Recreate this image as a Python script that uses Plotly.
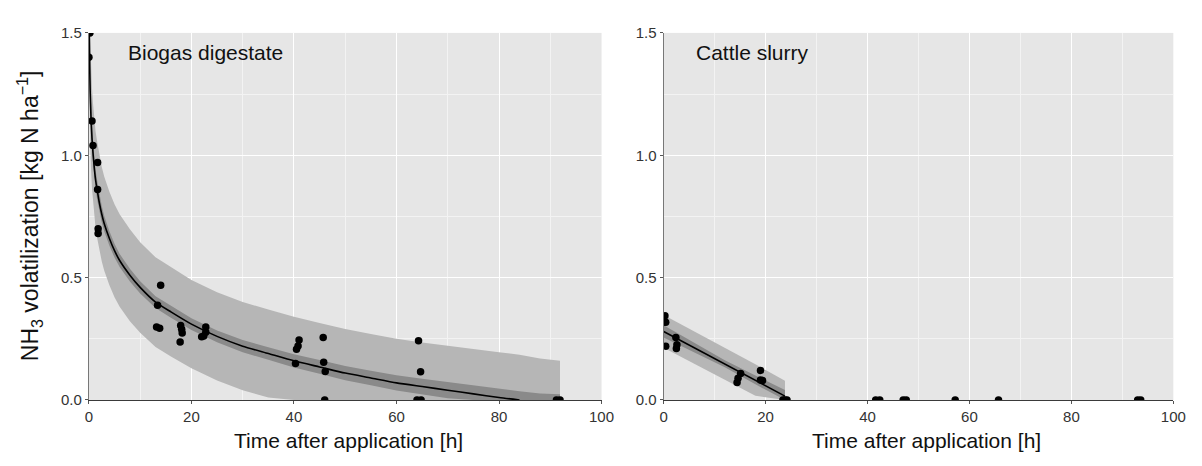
import plotly.graph_objects as go

# ---------------- Biogas digestate (left panel) ----------------
bio_t = [0, 0.2, 0.6, 0.8, 1.7, 1.7, 1.8, 1.8,
         13.4, 13.2, 13.8, 14.0, 17.9, 18.1, 18.2, 17.8,
         22.8, 22.8, 22.4, 22.0, 41.0, 40.8, 40.5, 40.3,
         45.7, 45.8, 46.1, 46.0, 64.3, 64.7, 64.0, 64.8, 91.2, 91.9]
bio_y = [1.40, 1.50, 1.14, 1.04, 0.97, 0.86, 0.70, 0.68,
         0.387, 0.298, 0.293, 0.469, 0.304, 0.289, 0.274, 0.237,
         0.298, 0.277, 0.262, 0.258, 0.245, 0.221, 0.207, 0.149,
         0.255, 0.154, 0.116, 0.0, 0.242, 0.115, 0.0, 0.0, 0.0, 0.0]

bio_fit_t = [0.08, 0.15, 0.25, 0.4, 0.6, 0.8, 1, 1.3, 1.6, 2, 2.5, 3, 4, 5, 6, 8, 10,
             13, 16, 20, 25, 30, 35, 40, 45, 50, 55, 60, 65, 70, 75, 80, 84]
bio_fit_y = [1.50, 1.37, 1.26, 1.16, 1.07, 1.01, 0.96, 0.90, 0.86, 0.81, 0.76, 0.72, 0.66,
             0.61, 0.57, 0.51, 0.46, 0.40, 0.36, 0.31, 0.26, 0.22, 0.19, 0.16, 0.135, 0.11,
             0.09, 0.07, 0.055, 0.04, 0.025, 0.01, 0.0]

bio_band_t = bio_fit_t + [88, 91.9]
bio_ci_hi = [1.50, 1.435, 1.32, 1.215, 1.12, 1.055, 1.00, 0.94, 0.90, 0.846, 0.794, 0.752,
             0.69, 0.638, 0.597, 0.536, 0.485, 0.424, 0.384, 0.334, 0.284, 0.245, 0.216,
             0.187, 0.163, 0.139, 0.12, 0.101, 0.087, 0.073, 0.059, 0.045, 0.036, 0.027, 0.023]
bio_ci_lo = [1.43, 1.305, 1.20, 1.105, 1.02, 0.965, 0.92, 0.86, 0.82, 0.774, 0.726, 0.688,
             0.63, 0.582, 0.543, 0.484, 0.435, 0.376, 0.336, 0.286, 0.236, 0.195, 0.164,
             0.133, 0.107, 0.081, 0.06, 0.039, 0.023, 0.007, 0.0, 0.0, 0.0, 0.0, 0.0]
bio_pi_hi = [1.50, 1.50, 1.475, 1.37, 1.275, 1.213, 1.16, 1.098, 1.057, 1.005, 0.953, 0.912,
             0.851, 0.80, 0.759, 0.698, 0.645, 0.583, 0.542, 0.49, 0.44, 0.40, 0.37, 0.34,
             0.315, 0.29, 0.27, 0.25, 0.235, 0.22, 0.208, 0.195, 0.185, 0.17, 0.16]
bio_pi_lo = [1.27, 1.15, 1.045, 0.95, 0.865, 0.807, 0.76, 0.702, 0.663, 0.615, 0.567, 0.528,
             0.469, 0.42, 0.381, 0.322, 0.275, 0.217, 0.178, 0.13, 0.08, 0.04, 0.01, 0.0,
             0.0, 0.0, 0.0, 0.0, 0.0, 0.0, 0.0, 0.0, 0.0, 0.0, 0.0]

# ---------------- Cattle slurry (right panel) ----------------
cs_t = [0.25, 0.0, 0.4, 0.4, 2.4, 2.6, 2.5, 15.1, 14.6, 14.4, 19.0, 19.0, 19.4,
        23.4, 23.8, 24.2, 41.6, 42.4, 47.0, 47.6, 57.2, 65.7, 93.0, 93.6]
cs_y = [0.344, 0.318, 0.318, 0.220, 0.255, 0.226, 0.210, 0.108, 0.089, 0.072,
        0.121, 0.082, 0.080, 0.0, 0.0, 0.0, 0.0, 0.0, 0.0, 0.0, 0.0, 0.0, 0.0, 0.0]

cs_fit_t = [0, 23.8]
cs_fit_y = [0.28, 0.016]
cs_band_t = [0, 6, 12, 18, 23.8]
cs_ci_hi = [0.305, 0.232, 0.162, 0.100, 0.041]
cs_ci_lo = [0.255, 0.196, 0.134, 0.064, 0.0]
cs_pi_hi = [0.347, 0.281, 0.213, 0.146, 0.079]
cs_pi_lo = [0.213, 0.147, 0.083, 0.017, 0.0]

x_ticks = [0, 20, 40, 60, 80, 100]
y_ticks = [0.0, 0.5, 1.0, 1.5]
y_ticktext = ["0.0", "0.5", "1.0", "1.5"]

panel_titles = ["Biogas digestate", "Cattle slurry"]
x_title = "Time after application [h]"
y_title = "NH<sub>3</sub> volatilization [kg N ha<sup>\u22121</sup>]"

LIGHT = "#B6B6B6"
DARK = "#8A8A8A"
FONT = "Arial, Liberation Sans, sans-serif"

fig = go.Figure()


def add_panel(t_pts, y_pts, ft, fy, bt, ci_hi, ci_lo, pi_hi, pi_lo, xa, ya):
    fig.add_trace(go.Scatter(x=bt + bt[::-1], y=pi_hi + pi_lo[::-1], fill="toself",
                             fillcolor=LIGHT, line=dict(width=0), mode="lines",
                             hoverinfo="skip", showlegend=False, xaxis=xa, yaxis=ya))
    fig.add_trace(go.Scatter(x=bt + bt[::-1], y=ci_hi + ci_lo[::-1], fill="toself",
                             fillcolor=DARK, line=dict(width=0), mode="lines",
                             hoverinfo="skip", showlegend=False, xaxis=xa, yaxis=ya))
    fig.add_trace(go.Scatter(x=ft, y=fy, mode="lines", line=dict(color="black", width=1.6,
                             shape="spline", smoothing=0.6),
                             showlegend=False, xaxis=xa, yaxis=ya))
    fig.add_trace(go.Scatter(x=t_pts, y=y_pts, mode="markers",
                             marker=dict(color="black", size=7.5),
                             showlegend=False, xaxis=xa, yaxis=ya))


add_panel(bio_t, bio_y, bio_fit_t, bio_fit_y, bio_band_t, bio_ci_hi, bio_ci_lo,
          bio_pi_hi, bio_pi_lo, "x", "y")
add_panel(cs_t, cs_y, cs_fit_t, cs_fit_y, cs_band_t, cs_ci_hi, cs_ci_lo,
          cs_pi_hi, cs_pi_lo, "x2", "y2")

W, H = 1202, 466
y_dom = [1 - 397.5 / H, 1 - 16.5 / H]

common_x = dict(range=[0, 100], tickvals=x_ticks, showgrid=True, gridcolor="white",
                gridwidth=1.2, zeroline=False, showline=True, linecolor="#3a3a3a",
                linewidth=1.2, ticks="outside", ticklen=3, tickcolor="#555",
                tickfont=dict(family=FONT, size=15, color="#333"),
                minor=dict(dtick=10, tick0=0, showgrid=True, gridcolor="#F3F3F3",
                           gridwidth=0.6, ticks=""),
                fixedrange=True)
common_y = dict(range=[0, 1.5], tickvals=y_ticks, ticktext=y_ticktext, showgrid=True,
                gridcolor="white", gridwidth=1.2, zeroline=False, showline=True,
                linecolor="#777", linewidth=1.2, ticks="outside", ticklen=3,
                tickcolor="#555", tickfont=dict(family=FONT, size=15, color="#333"),
                minor=dict(dtick=0.25, tick0=0, showgrid=True, gridcolor="#F3F3F3",
                           gridwidth=0.6, ticks=""),
                fixedrange=True, domain=y_dom)

fig.update_layout(
    width=W, height=H,
    margin=dict(l=0, r=0, t=0, b=0),
    paper_bgcolor="white",
    plot_bgcolor="#E6E6E6",
    font=dict(family=FONT, color="#222"),
    xaxis=dict(common_x, domain=[78 / W, 598 / W], anchor="y"),
    yaxis=dict(common_y, anchor="x"),
    xaxis2=dict(common_x, domain=[661 / W, 1178 / W], anchor="y2"),
    yaxis2=dict(common_y, anchor="x2"),
)

annotations = [
    dict(text=panel_titles[0], x=116 / W, y=1 - 37 / H, xanchor="left", yanchor="middle",
         font=dict(size=21, color="#111")),
    dict(text=panel_titles[1], x=692 / W, y=1 - 37 / H, xanchor="left", yanchor="middle",
         font=dict(size=21, color="#111")),
    dict(text=x_title, x=341 / W, y=1 - 440 / H, xanchor="center", yanchor="middle",
         font=dict(size=21, color="#111")),
    dict(text=x_title, x=928 / W, y=1 - 440 / H, xanchor="center", yanchor="middle",
         font=dict(size=21, color="#111")),
    dict(text=y_title, x=18 / W, y=1 - 206 / H, xanchor="center", yanchor="middle",
         textangle=-90, font=dict(size=23, color="#111")),
]
for a in annotations:
    a.update(xref="paper", yref="paper", showarrow=False)
fig.update_layout(annotations=annotations)

fig.write_html("out.html")
